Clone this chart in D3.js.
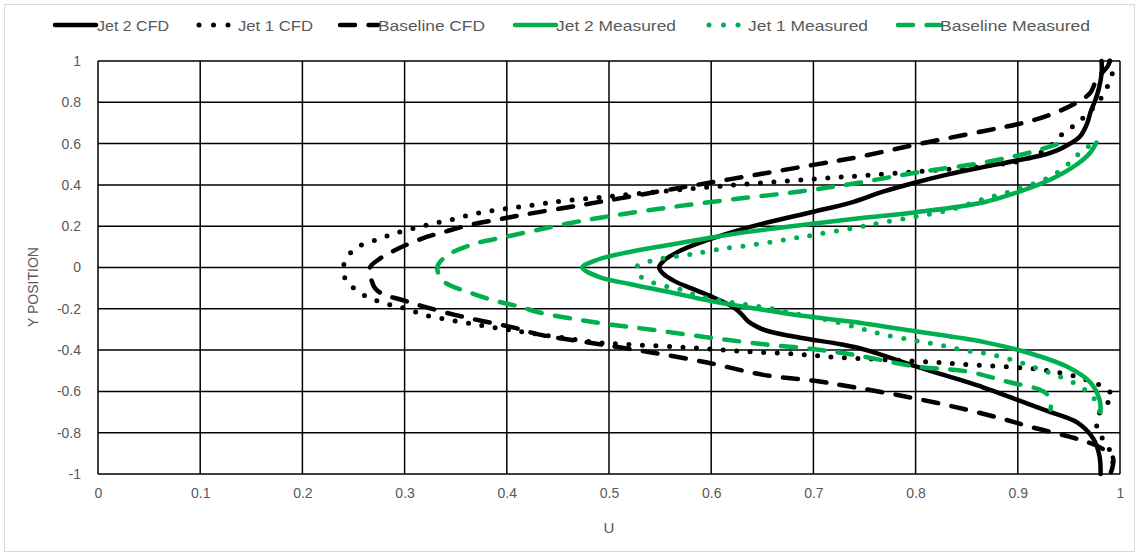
<!DOCTYPE html>
<html>
<head>
<meta charset="utf-8">
<script src="https://cdn.jsdelivr.net/npm/d3@7"></script>
<style>
  html, body { margin: 0; padding: 0; background: #fff; }
  svg { display: block; }
  text { font-family: "Liberation Sans", Arial, sans-serif; fill: #595959; }
</style>
</head>
<body>
<svg id="chart" width="1139" height="556"></svg>
<script>
// ---------- DATA ----------
const seriesNames = ["Jet 2 CFD", "Jet 1 CFD", "Baseline CFD", "Jet 2 Measured", "Jet 1 Measured", "Baseline Measured"];

const xTickValues = [0, 0.1, 0.2, 0.3, 0.4, 0.5, 0.6, 0.7, 0.8, 0.9, 1];
const xTickLabels = ["0", "0.1", "0.2", "0.3", "0.4", "0.5", "0.6", "0.7", "0.8", "0.9", "1"];
const yTickValues = [1, 0.8, 0.6, 0.4, 0.2, 0, -0.2, -0.4, -0.6, -0.8, -1];
const yTickLabels = ["1", "0.8", "0.6", "0.4", "0.2", "0", "-0.2", "-0.4", "-0.6", "-0.8", "-1"];

// Jet 2 CFD
const jet2CfdY = [1.0, 0.94, 0.86, 0.80, 0.75, 0.70, 0.636, 0.591, 0.555, 0.518, 0.486, 0.452, 0.413, 0.367, 0.313, 0.27, 0.217, 0.175, 0.12, 0.072, 0.03, 0.0, -0.03, -0.066, -0.10, -0.14, -0.193, -0.228, -0.26, -0.29, -0.31, -0.34, -0.373, -0.40, -0.48, -0.58, -0.64, -0.70, -0.75, -0.83, -0.915, -1.0];
const jet2CfdU = [0.982, 0.982, 0.979, 0.975, 0.971, 0.968, 0.961, 0.948, 0.932, 0.899, 0.866, 0.833, 0.801, 0.768, 0.736, 0.700, 0.654, 0.623, 0.589, 0.566, 0.553, 0.549, 0.553, 0.564, 0.580, 0.600, 0.622, 0.630, 0.636, 0.646, 0.657, 0.687, 0.728, 0.752, 0.801, 0.866, 0.899, 0.932, 0.958, 0.974, 0.980, 0.981];

// Jet 1 CFD
const jet1CfdY = [1.0, 0.96, 0.88, 0.81, 0.72, 0.68, 0.635, 0.58, 0.52, 0.49, 0.468, 0.446, 0.428, 0.41, 0.39, 0.368, 0.344, 0.322, 0.304, 0.285, 0.266, 0.232, 0.204, 0.17, 0.15, 0.126, 0.10, 0.058, 0.0, -0.066, -0.11, -0.144, -0.168, -0.187, -0.20, -0.228, -0.256, -0.28, -0.30, -0.32, -0.34, -0.363, -0.373, -0.387, -0.405, -0.42, -0.436, -0.455, -0.47, -0.485, -0.50, -0.53, -0.575, -0.624, -0.67, -0.727, -0.79, -0.857, -0.93, -1.0];
const jet1CfdU = [0.990, 0.993, 0.988, 0.980, 0.963, 0.953, 0.941, 0.930, 0.905, 0.866, 0.810, 0.750, 0.700, 0.650, 0.600, 0.550, 0.500, 0.455, 0.428, 0.400, 0.374, 0.346, 0.320, 0.294, 0.281, 0.268, 0.254, 0.245, 0.240, 0.243, 0.253, 0.264, 0.277, 0.290, 0.302, 0.318, 0.346, 0.374, 0.400, 0.426, 0.455, 0.488, 0.520, 0.576, 0.628, 0.684, 0.726, 0.807, 0.850, 0.902, 0.930, 0.958, 0.982, 0.993, 0.985, 0.978, 0.978, 0.987, 0.993, 0.990];

// Baseline CFD
const baseCfdY = [1.0, 0.975, 0.91, 0.846, 0.80, 0.74, 0.70, 0.66, 0.595, 0.537, 0.497, 0.446, 0.395, 0.343, 0.30, 0.257, 0.232, 0.208, 0.174, 0.14, 0.08, 0.04, 0.0, -0.05, -0.10, -0.13, -0.155, -0.188, -0.228, -0.26, -0.29, -0.325, -0.35, -0.375, -0.41, -0.46, -0.52, -0.55, -0.58, -0.62, -0.67, -0.73, -0.775, -0.83, -0.87, -0.92, -0.98, -1.0];
const baseCfdU = [0.990, 0.988, 0.977, 0.971, 0.958, 0.932, 0.905, 0.866, 0.800, 0.746, 0.700, 0.640, 0.580, 0.520, 0.470, 0.418, 0.391, 0.365, 0.340, 0.317, 0.289, 0.275, 0.266, 0.267, 0.271, 0.279, 0.296, 0.318, 0.348, 0.377, 0.406, 0.432, 0.462, 0.495, 0.540, 0.596, 0.651, 0.703, 0.740, 0.785, 0.834, 0.883, 0.915, 0.958, 0.980, 0.993, 0.992, 0.990];

// Jet 2 Measured
const jet2MeasY = [0.605, 0.557, 0.50, 0.426, 0.363, 0.315, 0.268, 0.238, 0.205, 0.17, 0.138, 0.108, 0.075, 0.04, 0.0, -0.045, -0.08, -0.12, -0.163, -0.20, -0.232, -0.262, -0.31, -0.36, -0.42, -0.48, -0.557, -0.64, -0.70];
const jet2MeasU = [0.977, 0.971, 0.958, 0.932, 0.899, 0.866, 0.801, 0.745, 0.687, 0.632, 0.592, 0.557, 0.520, 0.490, 0.474, 0.490, 0.520, 0.560, 0.600, 0.645, 0.687, 0.736, 0.801, 0.866, 0.915, 0.948, 0.971, 0.980, 0.981];

// Jet 1 Measured
const jet1MeasY = [0.586, 0.557, 0.508, 0.44, 0.378, 0.33, 0.28, 0.247, 0.218, 0.193, 0.16, 0.136, 0.108, 0.087, 0.063, 0.048, 0.03, 0.01, -0.03, -0.068, -0.09, -0.106, -0.14, -0.17, -0.195, -0.228, -0.26, -0.30, -0.324, -0.35, -0.373, -0.40, -0.42, -0.455, -0.494, -0.528, -0.576, -0.63, -0.697];
const jet1MeasU = [0.969, 0.961, 0.951, 0.932, 0.899, 0.866, 0.834, 0.801, 0.768, 0.741, 0.703, 0.674, 0.638, 0.606, 0.579, 0.557, 0.540, 0.528, 0.528, 0.540, 0.555, 0.570, 0.589, 0.621, 0.654, 0.687, 0.719, 0.750, 0.768, 0.795, 0.821, 0.847, 0.873, 0.899, 0.922, 0.941, 0.961, 0.974, 0.980];

// Baseline Measured
const baseMeasY = [0.596, 0.557, 0.508, 0.46, 0.41, 0.368, 0.33, 0.29, 0.245, 0.218, 0.184, 0.15, 0.111, 0.053, 0.0, -0.066, -0.122, -0.163, -0.19, -0.218, -0.252, -0.276, -0.30, -0.34, -0.373, -0.397, -0.425, -0.48, -0.503, -0.552, -0.60, -0.64, -0.688];
const baseMeasU = [0.938, 0.912, 0.866, 0.801, 0.744, 0.687, 0.621, 0.557, 0.496, 0.465, 0.432, 0.400, 0.366, 0.340, 0.332, 0.338, 0.364, 0.390, 0.413, 0.432, 0.469, 0.501, 0.540, 0.599, 0.654, 0.703, 0.742, 0.801, 0.850, 0.889, 0.925, 0.932, 0.932];

const seriesY = [jet2CfdY, jet1CfdY, baseCfdY, jet2MeasY, jet1MeasY, baseMeasY];
const seriesU = [jet2CfdU, jet1CfdU, baseCfdU, jet2MeasU, jet1MeasU, baseMeasU];

// ---------- STYLES ----------
const BLACK = "#000000", GREEN = "#00B050";
const seriesStyle = [
  { color: BLACK, dash: null,       width: 4.5 },
  { color: BLACK, dash: "0,13.5",   width: 5 },
  { color: BLACK, dash: "15,13.5",  width: 4.5 },
  { color: GREEN, dash: null,       width: 4.5 },
  { color: GREEN, dash: "0,13.5",   width: 5 },
  { color: GREEN, dash: "15,13.5",  width: 4.5 }
];

// ---------- LAYOUT ----------
const svg = d3.select("#chart");
const plot = { left: 98, right: 1120, top: 61, bottom: 474 };
const x = d3.scaleLinear().domain([0, 1]).range([plot.left, plot.right]);
const y = d3.scaleLinear().domain([-1, 1]).range([plot.bottom, plot.top]);

// outer chart border
svg.append("rect").attr("x", 4.5).attr("y", 4.5).attr("width", 1130).attr("height", 547)
  .attr("fill", "#fff").attr("stroke", "#d9d9d9").attr("stroke-width", 1);

// gridlines
const grid = svg.append("g");
grid.selectAll("line.v").data(xTickValues).enter().append("line")
  .attr("x1", d => x(d)).attr("x2", d => x(d))
  .attr("y1", plot.top).attr("y2", plot.bottom)
  .attr("stroke", "#000").attr("stroke-width", 1.5);
grid.selectAll("line.h").data(yTickValues).enter().append("line")
  .attr("x1", plot.left).attr("x2", plot.right)
  .attr("y1", d => y(d)).attr("y2", d => y(d))
  .attr("stroke", "#000").attr("stroke-width", 1.5);

// axes (labels only)
const xAxis = d3.axisBottom(x).tickValues(xTickValues)
  .tickFormat((d, i) => xTickLabels[i]).tickSize(0).tickPadding(0);
const gx = svg.append("g").attr("transform", `translate(0,${plot.bottom + 14})`).call(xAxis);
gx.select(".domain").remove();
gx.selectAll("text").attr("font-size", 14).attr("fill", "#595959")
  .style("font-family", "'Liberation Sans', Arial, sans-serif");

const yAxis = d3.axisLeft(y).tickValues(yTickValues)
  .tickFormat((d, i) => yTickLabels[i]).tickSize(0).tickPadding(0);
const gy = svg.append("g").attr("transform", `translate(${plot.left - 17},0)`).call(yAxis);
gy.select(".domain").remove();
gy.selectAll("text").attr("font-size", 14).attr("fill", "#595959")
  .style("font-family", "'Liberation Sans', Arial, sans-serif");

// axis titles
svg.append("text").attr("x", (plot.left + plot.right) / 2).attr("y", 533)
  .attr("text-anchor", "middle").attr("font-size", 15).text("U");
svg.append("text").attr("transform", "translate(38,287) rotate(-90)")
  .attr("text-anchor", "middle").attr("font-size", 14).text("Y POSITION");

// series
const line = d3.line().x(d => x(d.u)).y(d => y(d.y)).curve(d3.curveCatmullRom.alpha(0.5));
const lines = svg.append("g");
seriesNames.forEach((name, i) => {
  const pts = seriesY[i].map((yy, j) => ({ y: yy, u: seriesU[i][j] }));
  const st = seriesStyle[i];
  const p = lines.append("path").datum(pts).attr("d", line)
    .attr("fill", "none").attr("stroke", st.color).attr("stroke-width", st.width)
    .attr("stroke-linecap", "round").attr("stroke-linejoin", "round");
  if (st.dash) p.attr("stroke-dasharray", st.dash);
});

// legend
const legendItems = [
  { x0: 55,  x1: 96,  tx: 97,  tw: 72 },
  { x0: 199, x1: 229, tx: 238, tw: 75 },
  { x0: 340, x1: 378, tx: 378, tw: 107 },
  { x0: 515, x1: 556, tx: 556, tw: 120 },
  { x0: 709, x1: 739, tx: 748, tw: 120 },
  { x0: 898, x1: 940, tx: 940, tw: 150 }
];
const lg = svg.append("g");
const ly = 25;
seriesNames.forEach((name, i) => {
  const it = legendItems[i], st = seriesStyle[i];
  const l = lg.append("line").attr("x1", it.x0).attr("x2", it.x1).attr("y1", ly).attr("y2", ly)
    .attr("stroke", st.color).attr("stroke-width", st.width).attr("stroke-linecap", "round");
  if (st.dash) l.attr("stroke-dasharray", i % 3 === 1 ? "0,14.5" : "15,13.5");
  lg.append("text").attr("x", it.tx).attr("y", ly + 5.5).attr("font-size", 15)
    .attr("textLength", it.tw).attr("lengthAdjust", "spacingAndGlyphs").text(name);
});
</script>
</body>
</html>
